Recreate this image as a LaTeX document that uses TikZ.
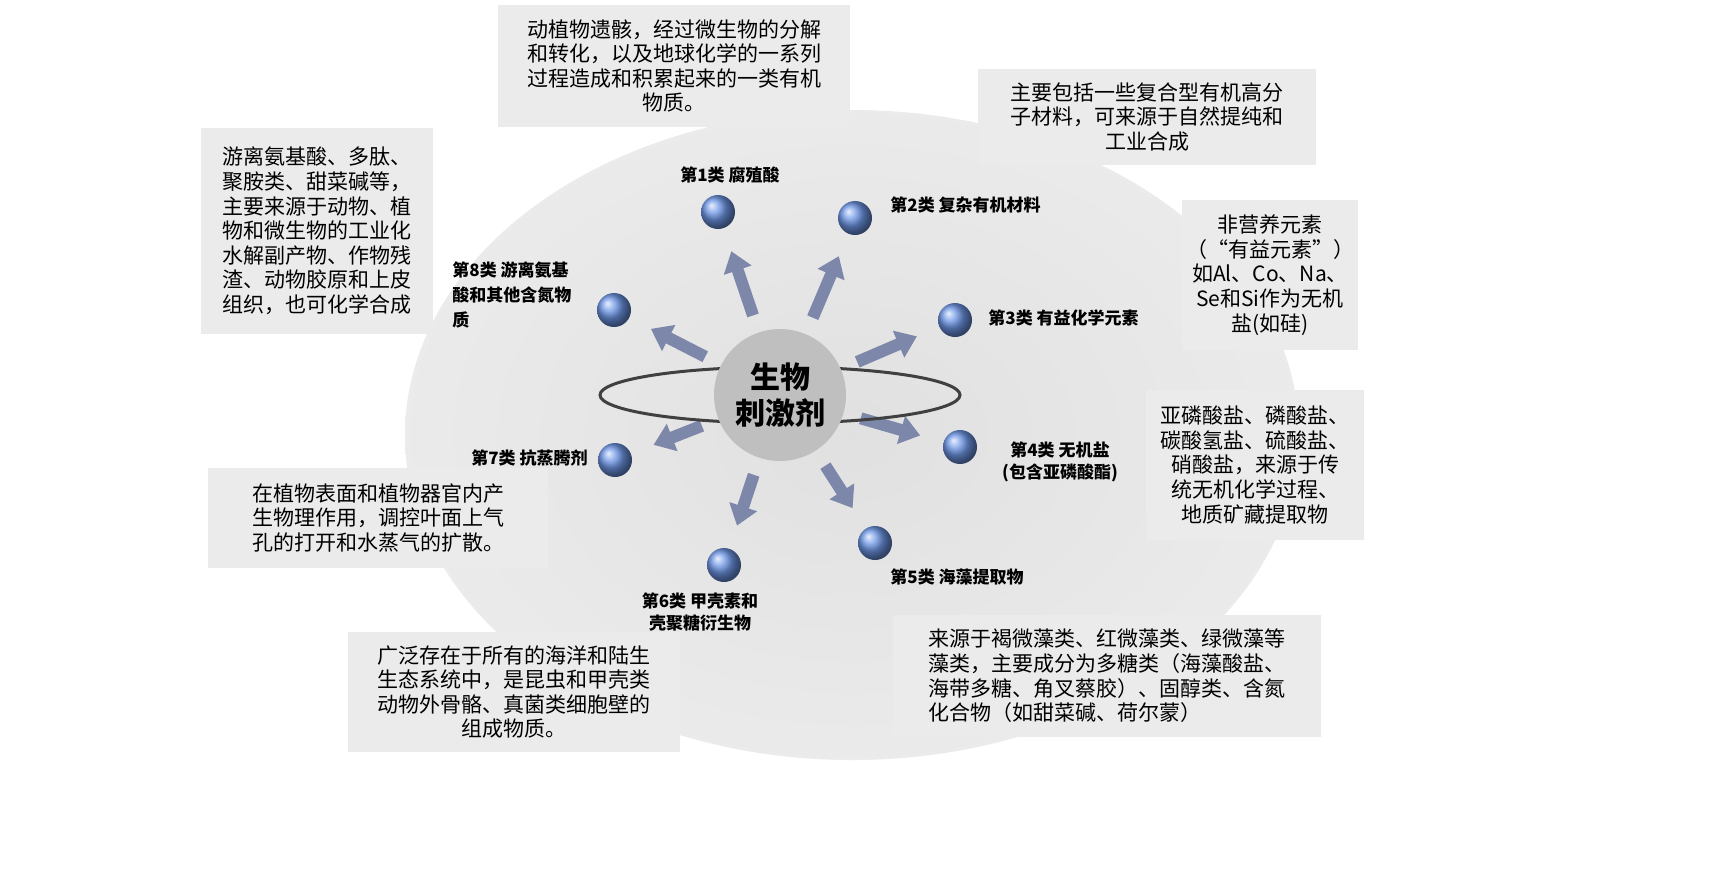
\documentclass[tikz,border=0pt]{standalone}
\usepackage{fontspec}
\setmainfont{Noto Sans CJK SC}
\usetikzlibrary{arrows.meta,shadings}
\definecolor{ballc}{RGB}{110,150,230}
\definecolor{arrc}{RGB}{125,135,170}
\tikzset{
 infobox/.style={fill=black!8,inner sep=0pt,font=\fontsize{10.5}{12.3}\selectfont},
 lab/.style={font=\bfseries\fontsize{8.5}{11}\selectfont,inner sep=0pt},
 ball/.style={circle,minimum size=17pt,inner sep=0pt,ball color=ballc},
 arr/.style={draw=arrc,line width=6pt,-{Triangle[length=10pt,width=14pt]},shorten <=42pt,shorten >=12pt},
}
\begin{document}
\begin{tikzpicture}[x=0.5pt,y=-0.5pt]
\useasboundingbox[fill=white] (0,0) rectangle (1732,884);
\shade[inner color=black!12,outer color=black!8] (852,435) ellipse [x radius=447,y radius=325];
% boxes
\node[infobox,minimum width=176pt,minimum height=61pt,align=center] (b1) at (674,66) {动植物遗骸，经过微生物的分解\\和转化，以及地球化学的一系列\\过程造成和积累起来的一类有机\\物质。};
\node[infobox,minimum width=169pt,minimum height=48pt,align=center] (b2) at (1147,117) {主要包括一些复合型有机高分\\子材料，可来源于自然提纯和\\工业合成};
\node[infobox,minimum width=88pt,minimum height=75pt,align=center] (b3) at (1270,275) {非营养元素\\（“有益元素”）\\如Al、Co、Na、\\Se和Si作为无机\\盐(如硅)};
\node[infobox,minimum width=109pt,minimum height=75pt,align=center] (b4) at (1255,465) {亚磷酸盐、磷酸盐、\\碳酸氢盐、硫酸盐、\\硝酸盐，来源于传\\统无机化学过程、\\地质矿藏提取物};
\node[infobox,minimum width=116pt,minimum height=103pt,align=left] (b8) at (317,231) {游离氨基酸、多肽、\\聚胺类、甜菜碱等，\\主要来源于动物、植\\物和微生物的工业化\\水解副产物、作物残\\渣、动物胶原和上皮\\组织，也可化学合成};
\node[infobox,minimum width=170pt,minimum height=50pt,align=left] (b7) at (378,518) {在植物表面和植物器官内产\\生物理作用，调控叶面上气\\孔的打开和水蒸气的扩散。};
\node[infobox,minimum width=166pt,minimum height=60pt,align=center] (b6) at (514,692) {广泛存在于所有的海洋和陆生\\生态系统中，是昆虫和甲壳类\\动物外骨骼、真菌类细胞壁的\\组成物质。};
\node[infobox,minimum width=214pt,minimum height=61pt,align=left] (b5) at (1107,676) {来源于褐微藻类、红微藻类、绿微藻等\\藻类，主要成分为多糖类（海藻酸盐、\\海带多糖、角叉蔡胶）、固醇类、含氮\\化合物（如甜菜碱、荷尔蒙）};
% center
\coordinate (c) at (780,395);
\node[ball] (n1) at (718,212) {};
\node[ball] (n2) at (855,218) {};
\node[ball] (n3) at (955,320) {};
\node[ball] (n4) at (960,447) {};
\node[ball] (n5) at (875,543) {};
\node[ball] (n6) at (724,565) {};
\node[ball] (n7) at (615,460) {};
\node[ball] (n8) at (614,310) {};
\foreach \i in {1,...,8} \draw[arr] (c) -- (n\i);
\draw[line width=1.5pt,draw=black!75] (c) ellipse [x radius=180,y radius=28];
\node[circle,fill=black!25,minimum size=66pt,inner sep=0pt,align=center,font=\bfseries\fontsize{15}{18}\selectfont] (ctr) at (c) {生物\\刺激剂};
% labels
\node[lab] (l1) at (730,175) {第1类 腐殖酸};
\node[lab,anchor=west] (l2) at (890,205) {第2类 复杂有机材料};
\node[lab,anchor=west] (l3) at (988,318) {第3类 有益化学元素};
\node[lab,align=center] (l4) at (1060,462) {第4类 无机盐\\(包含亚磷酸酯)};
\node[lab,anchor=west] (l5) at (890,577) {第5类 海藻提取物};
\node[lab,align=center] (l6) at (700,612) {第6类 甲壳素和\\壳聚糖衍生物};
\node[lab,anchor=east] (l7) at (588,458) {第7类 抗蒸腾剂};
\node[lab,anchor=west,align=left,font=\bfseries\fontsize{8.5}{12.5}\selectfont] (l8) at (452,295) {第8类 游离氨基\\酸和其他含氮物\\质};
\end{tikzpicture}
\end{document}
